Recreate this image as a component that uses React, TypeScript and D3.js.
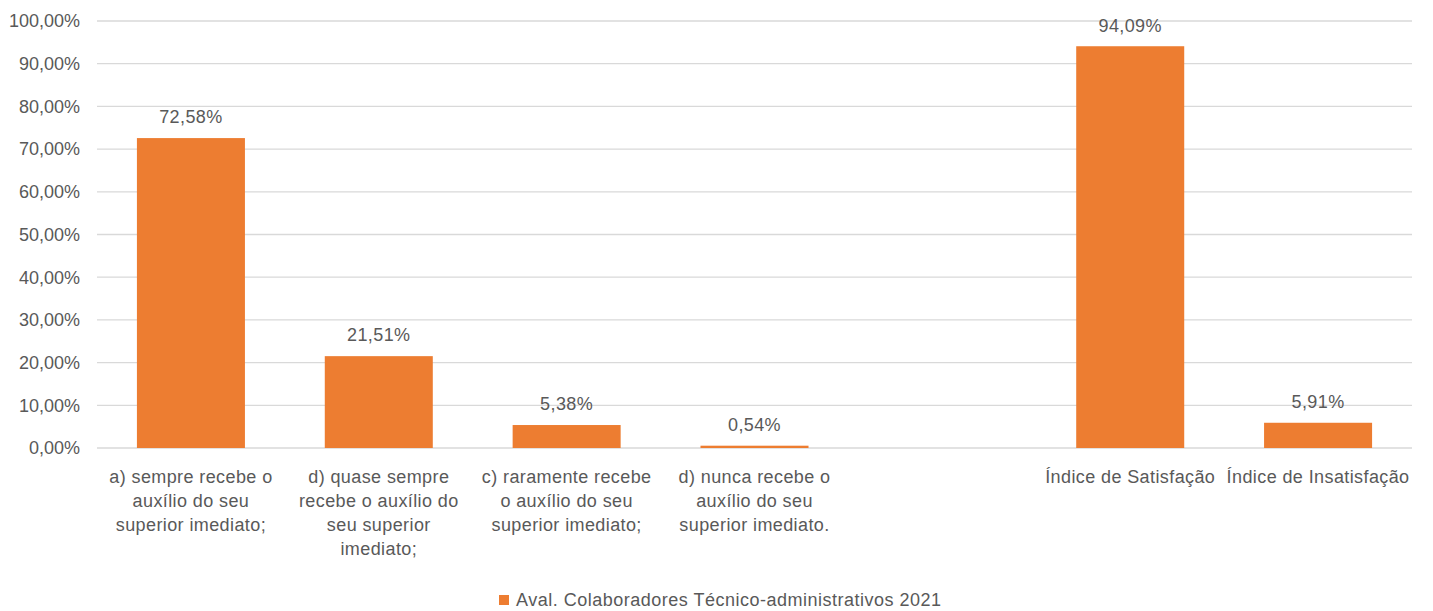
import React from "react";
import * as d3 from "d3";

const categories: string[][] = [
  ["a) sempre recebe o", "auxílio do seu", "superior imediato;"],
  ["d) quase sempre", "recebe o auxílio do", "seu superior", "imediato;"],
  ["c) raramente recebe", "o auxílio do seu", "superior imediato;"],
  ["d) nunca recebe o", "auxílio do seu", "superior imediato."],
  [],
  ["Índice de Satisfação"],
  ["Índice de Insatisfação"],
];
const values: (number | null)[] = [72.58, 21.51, 5.38, 0.54, null, 94.09, 5.91];
const yTicks: number[] = [0, 10, 20, 30, 40, 50, 60, 70, 80, 90, 100];
const seriesName = "Aval. Colaboradores Técnico-administrativos 2021";

const W = 1433;
const H = 611;
const FONT = "'Liberation Sans', Arial, sans-serif";
const TEXT = "#595959";
const BAR = "#ED7D31";
const FS = 18;
const LS = 0.4;

const fmt = (v: number) => v.toFixed(2).replace(".", ",") + "%";

export default function App() {
  const idx = categories.map((_, i) => String(i));
  const x = d3.scaleBand<string>().domain(idx).range([97, 1412]).paddingInner(0.425).paddingOuter(0.2125);
  const y = d3.scaleLinear().domain([0, 100]).range([448, 21]);
  return (
    <svg width={W} height={H} style={{ position: "absolute", left: 0, top: 0 }} fontFamily={FONT}>
      <rect width={W} height={H} fill="#fff" />
      {yTicks.map((t) => (
        <g key={t}>
          <line x1={97} x2={1412} y1={y(t)} y2={y(t)} stroke="#d9d9d9" strokeWidth={1.3} />
          <text x={80} y={y(t)} dy="0.35em" textAnchor="end" fontSize={FS} fill={TEXT}>
            {fmt(t)}
          </text>
        </g>
      ))}
      {values.map((v, i) =>
        v == null ? null : (
          <g key={i}>
            <rect x={x(String(i))} y={y(v)} width={x.bandwidth()} height={y(0) - y(v)} fill={BAR} />
            <text x={x(String(i))! + x.bandwidth() / 2} y={y(v) - 21} dy="0.35em" textAnchor="middle" fontSize={FS} letterSpacing={LS} fill={TEXT}>
              {fmt(v)}
            </text>
          </g>
        )
      )}
      {categories.map((lines, i) => (
        <text key={i} textAnchor="middle" fontSize={FS} letterSpacing={LS} fill={TEXT}>
          {lines.map((l, j) => (
            <tspan key={j} x={x(String(i))! + x.bandwidth() / 2} y={477 + j * 24} dy="0.35em">
              {l}
            </tspan>
          ))}
        </text>
      ))}
      <rect x={499} y={595} width={10} height={10} fill={BAR} />
      <text x={516} y={600} dy="0.35em" fontSize={FS} letterSpacing={0.5} fill={TEXT}>
        {seriesName}
      </text>
    </svg>
  );
}
